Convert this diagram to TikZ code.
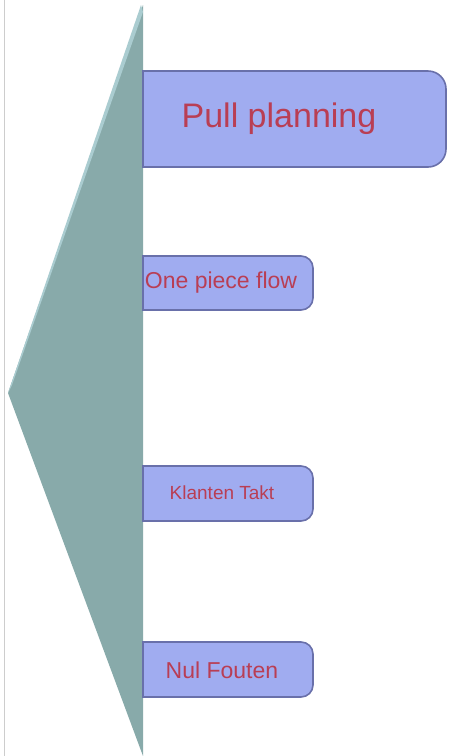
\documentclass[tikz,border=0pt]{standalone}
\usepackage{fontspec}
\setmainfont{Liberation Sans}
\definecolor{teal1}{RGB}{136,170,170}
\definecolor{teal2}{RGB}{170,204,208}
\definecolor{boxfill}{RGB}{160,172,240}
\definecolor{boxline}{RGB}{105,112,170}
\definecolor{txtred}{RGB}{185,62,84}
\definecolor{edgegray}{RGB}{205,205,205}
\tikzset{
  boxshape/.style={fill=boxfill,draw=boxline,line width=1.6pt},
  lbl/.style={text=txtred,inner sep=0pt,anchor=center},
}
\begin{document}
\begin{tikzpicture}[x=1pt,y=-1pt]
\useasboundingbox (0,0) rectangle (449,756);
\fill[white] (0,0) rectangle (449,756);
% left border line
\draw[edgegray,line width=1.5pt] (4.5,0) -- (4.5,756);
% teal wedge
\fill[teal1] (143,5) -- (8,393) -- (143,756) -- cycle;
\fill[teal2] (141,5) -- (8,393) -- (12,385) -- (143,12) -- cycle;
% boxes
\draw[boxshape] (143,71) [rounded corners=18] -- (446,71) -- (446,167) [sharp corners] -- (143,167) -- cycle;
\node[lbl,font=\fontsize{34}{36}\selectfont] (pull) at (279,119) {Pull planning};
\draw[boxshape] (143,256) [rounded corners=12] -- (313,256) -- (313,310) [sharp corners] -- (143,310) -- cycle;
\node[lbl,font=\fontsize{23}{25}\selectfont] (one) at (221,283) {One piece flow};
\draw[boxshape] (143,466) [rounded corners=12] -- (313,466) -- (313,521) [sharp corners] -- (143,521) -- cycle;
\node[lbl,font=\fontsize{19}{21}\selectfont] (klant) at (222,493) {Klanten Takt};
\draw[boxshape] (143,642) [rounded corners=12] -- (313,642) -- (313,697) [sharp corners] -- (143,697) -- cycle;
\node[lbl,font=\fontsize{23}{25}\selectfont] (nul) at (222,670) {Nul Fouten};
\end{tikzpicture}
\end{document}
